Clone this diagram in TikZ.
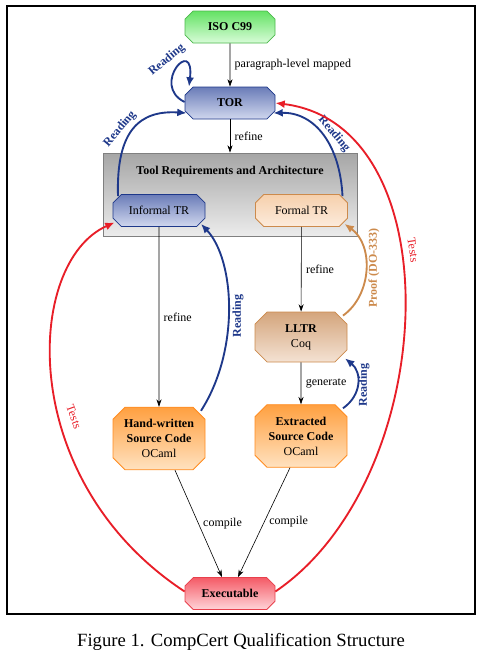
\documentclass[tikz,border=0pt]{standalone}
\usepackage{fontspec}
\setmainfont{Liberation Serif}
\usetikzlibrary{shapes.misc,arrows.meta,calc}

\definecolor{readblue}{RGB}{30,56,138}
\definecolor{testred}{RGB}{232,30,40}
\definecolor{proofbrown}{RGB}{204,138,76}

\tikzset{
    box/.style={chamfered rectangle, chamfered rectangle xsep=6pt, draw, line width=0.6pt,
        inner sep=0pt, align=center, minimum width=69pt, font=\fontsize{9}{11.25}\selectfont},
    isobox/.style={box, draw=green!60!black!70, top color={rgb,255:red,100;green,226;blue,100},
        bottom color={rgb,255:red,216;green,252;blue,216}, minimum width=67.5pt, minimum height=24pt},
    torbox/.style={box, draw=readblue, top color={rgb,255:red,106;green,124;blue,184},
        bottom color={rgb,255:red,208;green,215;blue,238}, minimum height=24pt},
    formbox/.style={box, draw=proofbrown, top color={rgb,255:red,246;green,208;blue,172},
        bottom color={rgb,255:red,252;green,235;blue,220}, minimum height=24pt},
    lltrbox/.style={box, draw=proofbrown, top color={rgb,255:red,212;green,165;blue,124},
        bottom color={rgb,255:red,244;green,226;blue,211}, minimum height=37.5pt},
    srcbox/.style={box, draw={rgb,255:red,255;green,140;blue,32}, top color={rgb,255:red,255;green,160;blue,64},
        bottom color={rgb,255:red,255;green,226;blue,192}, minimum height=47pt},
    exebox/.style={box, draw={rgb,255:red,232;green,64;blue,76}, top color={rgb,255:red,244;green,90;blue,102},
        bottom color={rgb,255:red,255;green,212;blue,216}, minimum width=67.5pt, minimum height=24pt},
    trabox/.style={box, draw=gray, top color=gray!70, bottom color=gray!15,
        minimum width=190.5pt, minimum height=62.25pt},
    plain/.style={-{Stealth[length=5.5pt,width=3.8pt]}, line width=0.45pt},
    readline/.style={-{Latex[length=7pt,width=6pt]}, line width=1.4pt, draw=readblue},
    testline/.style={-{Latex[length=7pt,width=6pt]}, line width=1.4pt, draw=testred},
    proofline/.style={-{Latex[length=7pt,width=6pt]}, line width=1.4pt, draw=proofbrown},
    lbl/.style={font=\fontsize{9}{10}\selectfont},
    readlbl/.style={font=\fontsize{9}{10}\selectfont\bfseries, text=readblue},
}

\begin{document}
\begin{tikzpicture}[x=0.75pt,y=-0.75pt]
    \useasboundingbox (0,0) rectangle (481,658);
    \draw [line width=0.8pt] (7,6) rectangle (475,614);

    % boxes
    \node [trabox] (tra) at (230,194.5) {};
    \node [font=\fontsize{9}{10}\selectfont\bfseries] (tratitle) at (230,172) {Tool Requirements and Architecture};
    \node [isobox] (iso) at (230,27) {\textbf{ISO C99}};
    \node [torbox, minimum width=67.5pt] (tor) at (230,103) {\textbf{TOR}};
    \node [torbox] (inftr) at (159,210.5) {Informal TR};
    \node [formbox] (fortr) at (301.5,210.5) {Formal TR};
    \node [lltrbox] (lltr) at (301,337) {\textbf{LLTR}\\Coq};
    \node [srcbox] (hand) at (159,438.5) {\textbf{Hand-written}\\\textbf{Source Code}\\OCaml};
    \node [srcbox] (extr) at (301,436) {\textbf{Extracted}\\\textbf{Source Code}\\OCaml};
    \node [exebox] (exe) at (230,593.5) {\textbf{Executable}};

    % refinement
    \draw [plain] (iso) -- node [right, lbl] {paragraph-level mapped} (tor);
    \draw [plain] (tor.south) -- node [right, lbl] {refine} (tor.south |- tra.north);
    \draw [plain] (inftr) -- node [right, lbl] {refine} (hand);
    \draw [plain] (fortr) -- node [right, lbl] {refine} (lltr);
    \draw [plain] (lltr) -- node [right, lbl] {generate} (extr);
    \draw [plain] ($(hand.south)+(16,0)$) -- node [pos=0.5, right, lbl] {compile} ($(exe.north)+(-8,0)$);
    \draw [plain] ($(extr.south)+(-11,0)$) -- node [pos=0.49, right, lbl] {compile} ($(exe.north)+(8,0)$);

    % reading
    \draw [readline] ($(tor.west)+(0,-1)$) .. controls (150,85) and (195,35) .. ($(tor.north)+(-41,0)$);
    \node [readlbl, rotate=40] (readtor) at (167,60) {Reading};
    \draw [readline] ($(inftr.north)+(-41,2)$) .. controls (116,130) and (140,110) .. ($(tor.west)+(2,10)$);
    \node [readlbl, rotate=50] (readinf) at (120,129) {Reading};
    \draw [readline] ($(fortr.north)+(41,2)$) .. controls (340,145) and (315,112) .. ($(tor.east)+(-2,10)$);
    \node [readlbl, rotate=-50] (readfor) at (334,134) {Reading};
    \draw [readline] ($(hand.north)+(42,4)$) .. controls (240,350) and (235,260) .. ($(inftr.south)+(42,-3)$);
    \node [readlbl, rotate=90] (readhand) at (238,316) {Reading};
    \draw [readline] ($(extr.north)+(42,4)$) .. controls (362,395) and (362,372) .. ($(lltr.south)+(44,-4)$);
    \node [readlbl, rotate=90] (readextr) at (364,385) {Reading};

    % proof
    \draw [proofline] ($(lltr.north)+(42,4)$) .. controls (372,295) and (374,245) .. ($(fortr.south)+(43,-3)$);
    \node [readlbl, text=proofbrown, rotate=90] (proof) at (374,268) {Proof (DO-333)};

    % tests
    \draw [testline] ($(exe.east)+(0,-2)$) .. controls (440,480) and (455,125) .. (tor.east);
    \node [lbl, text=testred, rotate=-82] (testr) at (413,250) {Tests};
    \draw [testline] ($(exe.west)+(0,-2)$) .. controls (15,480) and (25,262) .. ($(inftr.west)+(2,12)$);
    \node [lbl, text=testred, rotate=-70] (testl) at (74,417) {Tests};

    \node [font=\fontsize{14}{16}\selectfont] (caption) at (241,642) {Figure 1. CompCert Qualification Structure};
\end{tikzpicture}
\end{document}
